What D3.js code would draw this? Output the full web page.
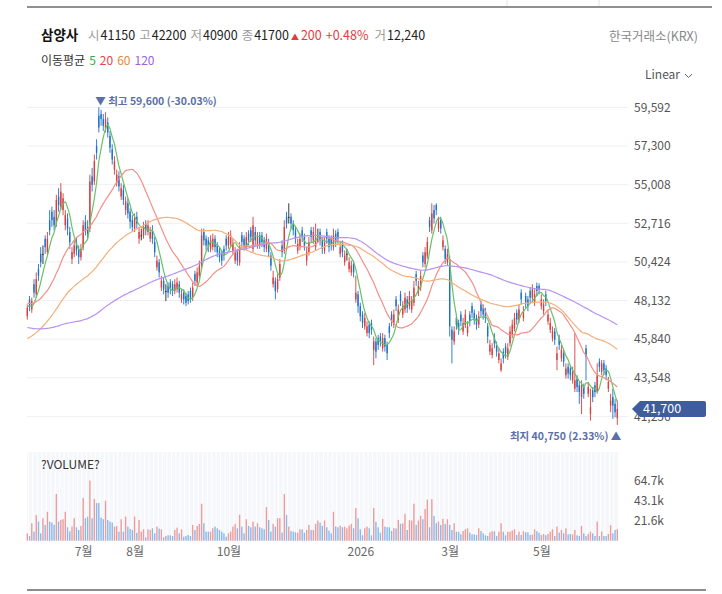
<!DOCTYPE html>
<html>
<head>
<meta charset="utf-8">
<script src="https://cdn.jsdelivr.net/npm/d3@7"></script>
<style>
    body { margin: 0; background: #fff; }
    svg text { font-family: "Noto Sans CJK KR", "Noto Sans", sans-serif; }
</style>
</head>
<body>
<svg id="chart" width="722" height="594"></svg>
<script>
// 삼양사 daily candles, ~1 year. Prices in won, volumes in shares.

// closes before the visible window, only used to warm up the moving averages
const priorCloses = [
    50800,50500,51000,50700,50300,50600,50100,49800,50200,49900,49600,49300,49700,49400,49000,48700,49100,48800,48400,48100,
    48300,47900,48200,47800,47500,47700,47300,47000,47400,47100,46800,47000,46600,46300,46700,46400,46000,46300,45900,45600,
    45900,45500,45200,45600,45300,45000,45400,45100,44800,45100,44700,44400,44800,44500,44200,44600,44300,44000,44400,44100,
    43800,43400,43000,43300,42900,42500,42800,42400,42100,42500,42200,41900,42300,42000,42400,42100,42600,42300,42800,43100,
    43600,44200,44700,45300,45900,46400,46900,47300,47700,48000,
    48300,47900,48200,48600,48100,47800,48200,48500,48000,47700,48100,48400,47900,47600,48000,48300,47800,48100,48500,48200,
    47900,47600,48000,48300,47900,47700,48100,47800,47600
];

const opens = [
    47200,48200,47600,49100,48500,50000,50900,50900,51800,51000,
    52900,53400,53100,52700,54300,53700,53500,52600,53000,52200,
    50600,50900,51600,51200,50700,51300,52800,52500,52400,55500,
    55200,57300,59100,59200,58900,58300,58700,57900,57100,55900,
    55100,55500,54300,54700,53500,53900,53400,52900,52400,53100,
    51800,52000,52000,52700,52200,51800,52300,51600,50100,50400,
    48900,49300,48700,49000,49200,49100,48700,48800,49100,48200,
    48600,48400,48500,48700,48300,49700,49200,49600,50200,52200,
    51800,51700,51200,51300,51800,51400,51100,50900,51200,51800,
    51400,51500,51100,50500,51000,50400,52000,51800,51300,52100,
    52300,51200,52200,51400,52000,52000,51700,51200,51600,50800,
    49100,49300,48800,49500,51400,51100,53100,53100,53100,52700,
    52300,51100,51300,52300,51900,50500,51000,52300,51700,51300,
    52000,52200,51700,51100,52200,51800,51800,51300,52100,52200,
    50900,51500,50400,50900,50000,49800,50300,48200,48500,47800,
    47300,46600,46200,46700,46800,45200,45700,45900,46000,45300,
    45900,45500,46600,47300,46700,48200,47000,48500,47300,47600,
    48200,47800,47600,48000,49700,48600,48900,50800,50300,50800,
    52900,52300,53500,53800,52400,52900,51300,51200,50400,50600,
    46400,45700,47100,46800,47300,46300,46700,46200,47300,47800,
    47400,47100,46700,47900,47700,47500,46600,45100,44900,46000,
    45500,44600,44000,45100,45400,44800,45600,46100,46500,47400,
    47000,48600,47100,48400,48200,48700,48300,48000,49000,49000,
    47800,47500,48500,46900,46400,45900,46300,44600,45900,44700,
    45000,43700,44200,44100,43400,42900,43500,43100,42400,43000,
    45300,42600,41400,42800,43100,42700,44500,43900,44400,44100,
    42900,41900,42400,42000,41150
];

const highs = [
    47900,48400,48300,49400,49800,50300,51300,51400,52000,52200,
    53500,53700,53500,54400,54800,55100,54500,53500,53300,52500,
    51300,51700,51900,51400,51500,52900,53200,52900,55600,56000,
    56800,57700,59600,59450,59200,59300,59000,58200,57400,56700,
    55900,55800,55100,55000,54300,54200,53600,53200,53300,53400,
    52500,52400,52800,52900,52900,52500,52600,51900,50800,50600,
    49600,49500,49100,49200,49400,49300,49400,49500,49300,48800,
    48800,48600,48700,48900,49200,49900,50100,50500,52400,52400,
    52000,51900,52000,52100,52000,51600,51300,51100,51400,52000,
    52200,52300,51800,51300,51200,51600,52200,52000,52200,52300,
    52500,53100,52500,52200,52200,52200,51900,52100,51800,51000,
    49900,49500,49700,50600,51700,52900,53400,53900,53300,52900,
    52500,51800,52100,52500,52100,51300,51900,52500,52500,52700,
    52400,52400,51900,51900,52400,52000,52000,52400,52300,52400,
    51600,51700,51100,51200,50700,50500,50500,49600,48700,48000,
    47500,47400,46900,46900,47000,46000,45900,46100,46200,46200,
    46100,45700,46800,47500,47600,48400,47900,48700,48100,48600,
    48400,48700,48400,49300,49900,49300,49900,51000,51300,51900,
    53100,53900,53800,53900,53100,53100,52000,51400,51200,50800,
    46600,46600,47300,47000,47500,47100,47600,46900,47500,48000,
    47600,47300,47500,48100,47900,47700,46800,45800,45600,46200,
    45700,45300,44700,45300,45600,45600,46600,47000,47400,47600,
    47900,48800,47800,48600,48400,48900,49100,48800,49200,49150,
    48500,48200,48700,47600,47100,46600,46500,45400,46100,45500,
    45200,44400,44400,44300,44200,46200,43700,43300,43400,43200,
    45500,43300,42900,43000,43300,44400,44700,44600,44600,44300,
    43600,42600,42900,42300,42200
];

const lows = [
    47000,47500,47400,48300,48300,49300,50100,50300,50900,50800,
    52000,52500,52300,52500,53400,53500,53200,52300,52000,51200,
    50300,50700,50800,50300,50500,51100,52000,51800,52200,54600,
    55000,56500,58100,58500,58200,58100,57800,56900,56200,55600,
    54900,54600,54100,53800,53200,53000,52400,52200,52200,52400,
    51500,51700,51800,52000,52000,51600,51500,50700,49900,49500,
    48700,48500,48100,48300,48500,48400,48500,48600,48300,48000,
    47900,47800,47900,48000,48100,49000,49000,49400,50000,51400,
    51100,51000,51000,51100,51000,50700,50400,50200,50500,51100,
    51200,51300,50900,50300,50200,50200,51300,51100,51100,51400,
    51600,51000,51400,51200,51200,51300,51000,51000,50700,49900,
    48900,48200,48600,49300,50700,50900,52400,52700,52400,52000,
    51500,50900,51100,51600,51100,50200,50800,51600,51500,51100,
    51600,51400,50900,50900,51500,51000,51100,51100,51300,51500,
    50700,50700,50200,50500,49800,49600,49500,48000,47400,46900,
    46500,46400,46000,45900,46100,44300,44700,45200,45400,45100,
    45100,44600,45900,46600,46500,47500,46800,47800,47100,47400,
    47400,47600,47400,47800,49000,48400,48700,50100,50100,50600,
    52200,52100,52700,53200,52200,52100,51100,50300,50200,46000,
    44400,45500,46400,46100,46600,46100,46500,46000,46600,47100,
    46700,46400,46500,47200,47000,46800,45600,44900,44700,45300,
    44800,44400,43900,44400,44700,44600,45400,45900,46300,46700,
    46800,47900,46900,47700,47500,48000,48100,47800,48400,48500,
    47600,47300,47800,46700,46200,45700,45500,44000,45200,44500,
    44200,43500,43500,43400,43200,42700,42700,42000,41400,42300,
    43400,42400,41000,42100,42400,42600,43900,43700,43700,43400,
    42700,41500,41100,41200,40750
];

const closes = [
    47700,47800,48100,48600,49400,49600,50400,50900,51300,51800,
    52300,52900,52600,54100,53800,54600,54200,53200,52400,51600,
    51000,51400,51100,50700,51200,52600,52300,52100,55200,55000,
    56400,56900,58400,58900,58500,58900,58100,57200,56500,56400,
    55600,54900,54800,54100,54000,53300,52800,52500,53000,52700,
    52200,52000,52500,52300,52600,52200,51800,51000,50500,49800,
    49300,48800,48700,48600,48800,48700,49100,49200,48600,48500,
    48200,48000,48100,48300,48900,49300,49800,50200,52000,51700,
    51400,51300,51700,51800,51300,51000,50700,50500,50800,51400,
    51900,52000,51500,51000,50500,51300,51600,51400,51900,51700,
    51900,52600,51700,51900,51500,51600,51300,51800,51000,50200,
    49500,48700,49400,50300,51000,52500,52700,53100,52700,52300,
    51800,51500,51800,51900,51400,51000,51600,51900,52200,51800,
    52000,51700,51200,51600,51800,51300,51400,52000,51600,51800,
    51300,51000,50800,50900,50400,50200,49800,48600,47800,47200,
    46800,47100,46600,46200,46400,45700,45100,45500,45700,45900,
    45400,45000,46200,46900,47300,47800,47600,48100,47800,48300,
    47700,48400,48100,48900,49300,49000,49600,50400,51000,51600,
    52500,53300,53000,53500,52800,52400,51700,50600,50900,46600,
    45800,46300,46700,46400,46900,46800,47300,46600,46900,47400,
    47000,46700,47200,47500,47300,47100,46000,45500,45300,45600,
    45100,45000,44400,44700,45000,45300,46300,46700,47100,47000,
    47600,48200,47500,48000,47800,48300,48800,48500,48700,48800,
    48200,47900,48100,47300,46800,46300,45800,45000,45500,45200,
    44500,44100,43800,43700,43900,43400,43000,42700,43100,42600,
    44800,43000,41800,42400,42700,43700,44200,44400,44000,43700,
    43300,42200,41900,41500,41700
];

// volumes in thousands of shares
const volumesK = [
    7.9,5.0,18.7,9.7,27.4,20.5,7.9,24.1,16.9,31.0,
    20.5,19.4,16.9,50.0,20.5,22.3,23.0,31.0,14.4,10.1,
    15.1,24.1,14.4,11.5,15.8,45.7,24.1,25.9,64.4,24.1,
    44.6,40.3,40.3,24.8,23.0,42.8,22.3,20.5,19.4,15.1,
    15.8,9.7,23.0,9.7,25.9,15.1,12.6,11.5,25.9,8.6,
    22.3,9.7,12.2,3.6,12.2,11.5,13.3,7.9,15.1,13.0,
    12.2,3.6,5.0,5.8,5.8,5.0,11.5,14.0,7.9,12.2,
    4.3,5.0,6.1,5.0,16.9,11.5,15.8,18.0,39.6,18.7,
    9.7,9.7,9.7,13.3,15.1,13.3,11.5,9.7,7.9,4.3,
    7.9,9.7,15.1,18.0,13.3,27.7,15.1,7.9,23.0,15.8,
    14.4,20.5,15.1,18.7,14.4,13.3,12.2,36.0,22.3,9.7,
    18.0,15.1,24.1,24.1,8.6,50.0,27.7,15.1,10.4,9.7,
    9.0,8.6,12.2,12.2,8.6,11.5,16.9,11.5,11.5,18.0,
    21.6,19.4,15.8,21.6,
    14.4,10.8,7.9,31.0,15.1,14.4,16.2,14.4,15.1,13.3,
    16.2,18.0,13.3,34.9,24.1,12.2,5.8,13.3,15.1,13.3,
    5.8,34.9,20.2,14.4,8.6,23.4,15.1,14.4,14.4,10.4,
    13.7,13.0,22.3,18.0,18.7,28.8,11.5,22.0,21.6,39.6,
    16.9,21.6,26.6,23.0,33.8,43.9,14.4,44.6,26.6,18.7,
    20.5,16.9,23.4,18.0,23.0,16.9,11.5,18.7,9.7,9.4,
    6.8,10.4,12.2,13.3,8.6,6.8,6.8,6.1,13.3,10.4,
    7.9,5.8,5.0,9.0,10.1,10.1,5.0,9.7,18.7,9.7,
    5.8,9.4,9.7,10.8,12.2,6.1,9.7,6.1,10.1,9.0,
    9.0,6.1,6.5,12.2,10.1,8.6,6.1,7.2,5.8,7.2,
    9.7,12.2,5.0,15.1,8.6,11.5,7.9,13.3,6.8,7.2,
    6.8,11.5,5.8,5.0,15.8,7.9,5.0,7.2,9.7,7.9,
    5.0,20.5,5.0,9.7,5.0,5.0,7.2,16.6,7.9,11.5,12.24
];

const priceTicks = [59592, 57300, 55008, 52716, 50424, 48132, 45840, 43548, 41256];
const volumeTicks = [21567, 43133, 64700];
const monthIdx = [25, 48, 90, 149, 189, 230];
const monthLabels = ["7월", "8월", "10월", "2026", "3월", "5월"];

const maPeriods = [5, 20, 60, 120];
const maColors = ["#66c266", "#f29088", "#f5b07a", "#b892f0"];
const maLegendColors = ["#3aa83a", "#e8434b", "#e8893a", "#9a62e0"];

const quoteLabels = ["시", "고", "저", "종"];
const quoteValues = ["41150", "42200", "40900", "41700"];

const upColor = "#d6403f";
const downColor = "#2071c6";
const flatColor = "#222";
const volUp = "#ec9c9c";
const volDown = "#8bb8e8";

const svg = d3.select("#chart");
const n = closes.length;
const volumes = volumesK.map(v => v * 1000);

const x = d3.scaleLinear().domain([0, n - 1]).range([27.3, 617.3]);
const y = d3.scaleLinear().domain([41256, 59592]).range([416.4, 107.4]);
const yv = d3.scaleLinear().domain([0, 64700]).range([540.7, 480.3]);

const candleColor = i => closes[i] > opens[i] ? upColor : (closes[i] < opens[i] ? downColor : flatColor);

// frame lines of the page
svg.append("line").attr("x1", 27).attr("x2", 712).attr("y1", 7).attr("y2", 7)
    .attr("stroke", "#6b6b6b").attr("stroke-width", 1.5);
[507, 599].forEach(px => svg.append("line").attr("x1", px).attr("x2", px).attr("y1", 0).attr("y2", 6)
    .attr("stroke", "#e2e2e2"));
svg.append("line").attr("x1", 27).attr("x2", 706).attr("y1", 590).attr("y2", 590)
    .attr("stroke", "#666").attr("stroke-width", 1.5);

// header
svg.append("text").attr("x", 41).attr("y", 40).attr("font-weight", 700).attr("font-size", 13.5)
    .attr("fill", "#111").text("삼양사");
const quote = svg.append("text").attr("x", 88).attr("y", 40).attr("font-size", 12.5);
quoteLabels.forEach((lab, k) => {
    quote.append("tspan").attr("dx", k ? 4 : 0).attr("fill", "#999").text(lab);
    quote.append("tspan").attr("dx", 1).attr("fill", "#222").text(quoteValues[k]);
});
quote.append("tspan").attr("dx", 2).attr("font-size", 8).attr("fill", "#e23b3b").text("▲");
quote.append("tspan").attr("dx", 2).attr("fill", "#e23b3b").text("200");
quote.append("tspan").attr("dx", 4).attr("fill", "#e23b3b").text("+0.48%");
quote.append("tspan").attr("dx", 6).attr("fill", "#999").text("거");
quote.append("tspan").attr("dx", 1).attr("fill", "#222").text("12,240");
svg.append("text").attr("x", 698).attr("y", 41).attr("text-anchor", "end").attr("font-size", 12.5)
    .attr("fill", "#888").text("한국거래소(KRX)");

// MA legend
const leg = svg.append("text").attr("x", 41).attr("y", 65).attr("font-size", 12).attr("fill", "#333");
leg.append("tspan").text("이동평균");
maPeriods.forEach((p, k) => leg.append("tspan").attr("dx", 4).attr("fill", maLegendColors[k]).text(p));

// scale mode switch
svg.append("text").attr("x", 645).attr("y", 79).attr("font-size", 12).attr("fill", "#555").text("Linear");
svg.append("path").attr("d", "M685,74 l3.5,3.5 l3.5,-3.5").attr("fill", "none")
    .attr("stroke", "#666").attr("stroke-width", 1);

// price grid
svg.append("g").selectAll("line").data(priceTicks).join("line")
    .attr("x1", 27).attr("x2", 628)
    .attr("y1", d => y(d)).attr("y2", d => y(d))
    .attr("stroke", "#eef0f4");

// price axis
svg.append("g").attr("transform", "translate(628,0)")
    .call(d3.axisRight(y).tickValues(priceTicks).tickSize(0).tickPadding(6).tickFormat(d3.format(",")))
    .call(g => g.select(".domain").remove())
    .call(g => g.selectAll("text").attr("font-size", 12).attr("fill", "#555")
        .attr("font-family", "'Noto Sans CJK KR', sans-serif"));

// candles
const candles = svg.append("g");
candles.selectAll("line").data(d3.range(n)).join("line")
    .attr("x1", i => x(i)).attr("x2", i => x(i))
    .attr("y1", i => y(highs[i])).attr("y2", i => y(lows[i]))
    .attr("stroke", candleColor).attr("stroke-width", 0.9);
candles.selectAll("rect").data(d3.range(n)).join("rect")
    .attr("x", i => x(i) - 0.7).attr("width", 1.4)
    .attr("y", i => y(Math.max(opens[i], closes[i])))
    .attr("height", i => Math.max(1, Math.abs(y(opens[i]) - y(closes[i]))))
    .attr("fill", candleColor);

// moving averages
const allCloses = priorCloses.concat(closes);
const off = priorCloses.length;
maPeriods.forEach((p, k) => {
    const ma = d3.range(n).map(i => d3.mean(allCloses.slice(off + i - p + 1, off + i + 1)));
    svg.append("path").datum(ma)
        .attr("fill", "none").attr("stroke", maColors[k]).attr("stroke-width", 1.2)
        .attr("d", d3.line().x((d, i) => x(i)).y(d => y(d)).curve(d3.curveMonotoneX));
});

// high / low markers
const iMax = d3.maxIndex(highs);
const iMin = d3.minIndex(lows);
const last = closes[n - 1];
svg.append("text").attr("x", x(iMax) - 3.5).attr("y", 105).attr("font-size", 10.5)
    .attr("font-weight", 700).attr("fill", "#5b6fa8")
    .text(`▼ 최고 ${d3.format(",")(highs[iMax])} (${((last / highs[iMax] - 1) * 100).toFixed(2)}%)`);
svg.append("text").attr("x", x(iMin) + 4).attr("y", 440).attr("font-size", 10.5)
    .attr("font-weight", 700).attr("fill", "#5b6fa8").attr("text-anchor", "end")
    .text(`최지 ${d3.format(",")(lows[iMin])} (${((last / lows[iMin] - 1) * 100).toFixed(2)}%) ▲`);

// last price tag (drawn over the lowest axis label, as in the source)
const ty = y(last);
svg.append("path")
    .attr("d", `M632,${ty} L640,${ty - 8} L704,${ty - 8} Q706,${ty - 8} 706,${ty - 6} L706,${ty + 6} Q706,${ty + 8} 704,${ty + 8} L640,${ty + 8} Z`)
    .attr("fill", "#3f5c9c");
svg.append("text").attr("x", 643).attr("y", ty + 4.5).attr("font-size", 12.5).attr("fill", "#fff")
    .text(d3.format(",")(last));

// volume panel
svg.append("rect").attr("x", 27).attr("y", 452).attr("width", 591).attr("height", 89).attr("fill", "#f6f7fb");
svg.append("g").selectAll("line").data(d3.range(0, n, 2)).join("line")
    .attr("x1", i => x(i) + 1.1).attr("x2", i => x(i) + 1.1)
    .attr("y1", 452).attr("y2", 541).attr("stroke", "#fff").attr("stroke-width", 1);
svg.append("text").attr("x", 41).attr("y", 469).attr("font-size", 12).attr("fill", "#333").text("?VOLUME?");
svg.append("g").selectAll("rect").data(d3.range(n)).join("rect")
    .attr("x", i => x(i) - 0.7).attr("width", 1.4)
    .attr("y", i => yv(volumes[i]))
    .attr("height", i => yv(0) - yv(volumes[i]))
    .attr("fill", i => closes[i] >= opens[i] ? volUp : volDown);

svg.append("g").attr("transform", "translate(628,0)")
    .call(d3.axisRight(yv).tickValues(volumeTicks).tickSize(0).tickPadding(6)
        .tickFormat(d => (d / 1000).toFixed(1) + "k"))
    .call(g => g.select(".domain").remove())
    .call(g => g.selectAll("text").attr("font-size", 12).attr("fill", "#555")
        .attr("font-family", "'Noto Sans CJK KR', sans-serif"));

// time axis
svg.append("g").attr("transform", "translate(0,545)")
    .call(d3.axisBottom(x).tickValues(monthIdx).tickSize(0).tickPadding(2)
        .tickFormat((d, k) => monthLabels[k]))
    .call(g => g.select(".domain").remove())
    .call(g => g.selectAll("text").attr("font-size", 12).attr("fill", "#666")
        .attr("font-family", "'Noto Sans CJK KR', sans-serif"));
</script>
</body>
</html>
